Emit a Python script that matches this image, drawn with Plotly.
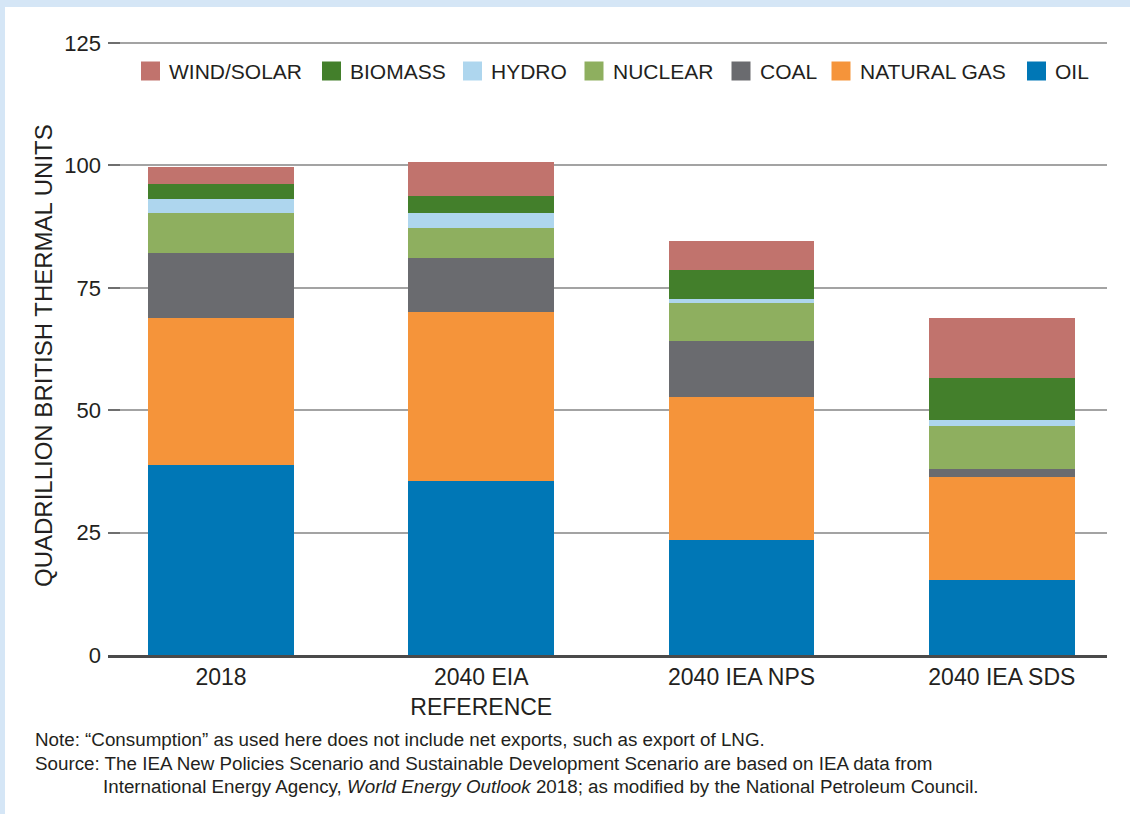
import plotly.graph_objects as go

# Scenarios on the horizontal axis
scenarios = ["2018", "2040 EIA<br>REFERENCE", "2040 IEA NPS", "2040 IEA SDS"]

# U.S. primary energy consumption by fuel, quadrillion Btu
oil = [38.8, 35.6, 23.5, 15.4]
natural_gas = [30.1, 34.4, 29.1, 20.9]
coal = [13.2, 11.0, 11.5, 1.6]
nuclear = [8.2, 6.3, 7.7, 8.8]
hydro = [2.8, 3.0, 0.9, 1.3]
biomass = [3.0, 3.5, 5.9, 8.5]
wind_solar = [3.5, 6.9, 5.9, 12.4]

# Stack order, bottom to top
series_names = ["OIL", "NATURAL GAS", "COAL", "NUCLEAR", "HYDRO", "BIOMASS", "WIND/SOLAR"]
series_values = [oil, natural_gas, coal, nuclear, hydro, biomass, wind_solar]
series_colors = ["#0077B6", "#F5943A", "#6A6B6F", "#8EAF5F", "#AED6EE", "#437F2B", "#C1736D"]

y_ticks = [0, 25, 50, 75, 100, 125]
y_max = 126.02  # headroom so the 125 gridline and tick are drawn

# Plot-area edges in page pixels
L, R, T, B = 108, 1107, 38, 655
W, H = 1130, 814


def px_x(px):
    return (px - L) / (R - L)


def px_y(py):
    return (B - py) / (B - T)


FONT = "Arial, Liberation Sans, Helvetica, sans-serif"
TEXT = "#231F20"

fig = go.Figure()
for name, vals, col in zip(series_names, series_values, series_colors):
    fig.add_trace(go.Bar(
        x=list(range(len(scenarios))), y=vals, name=name,
        marker=dict(color=col, line=dict(width=0)),
        width=0.56, showlegend=False,
    ))

shapes = []
annotations = []

# Light blue frame strips along the top and left edges
frame = "#D5E6F6"
shapes.append(dict(type="rect", xref="paper", yref="paper", layer="below",
                   x0=px_x(0), x1=px_x(W), y0=px_y(0), y1=px_y(7),
                   line=dict(width=0), fillcolor=frame))
shapes.append(dict(type="rect", xref="paper", yref="paper", layer="below",
                   x0=px_x(0), x1=px_x(5), y0=px_y(0), y1=px_y(H),
                   line=dict(width=0), fillcolor=frame))

# Legend row: colour swatch followed by its label, top of the stack first
legend_left = [141, 322, 463, 584.5, 731.5, 831.5, 1027]
sw, ly = 19, 71
for xl, name, col in zip(legend_left, series_names[::-1], series_colors[::-1]):
    shapes.append(dict(type="rect", xref="paper", yref="paper",
                       x0=px_x(xl), x1=px_x(xl + sw),
                       y0=px_y(ly + sw / 2), y1=px_y(ly - sw / 2),
                       line=dict(width=0), fillcolor=col))
    annotations.append(dict(xref="paper", yref="paper", x=px_x(xl + sw + 7), y=px_y(ly),
                            xanchor="left", yanchor="middle", showarrow=False,
                            text=name, font=dict(family=FONT, size=21, color=TEXT)))

# Vertical axis title
annotations.append(dict(xref="paper", yref="paper", x=px_x(43), y=px_y(356),
                        xanchor="center", yanchor="middle", showarrow=False, textangle=-90,
                        text="QUADRILLION BRITISH THERMAL UNITS",
                        font=dict(family=FONT, size=24, color=TEXT)))

# Footnotes
note_font = dict(family=FONT, size=18.8, color=TEXT)
annotations.append(dict(xref="paper", yref="paper", x=px_x(33), y=px_y(739),
                        xanchor="left", yanchor="middle", showarrow=False, font=note_font,
                        text="Note: \u201cConsumption\u201d as used here does not include net exports, such as export of LNG."))
annotations.append(dict(xref="paper", yref="paper", x=px_x(33), y=px_y(763),
                        xanchor="left", yanchor="middle", showarrow=False, font=note_font,
                        text="Source: The IEA New Policies Scenario and Sustainable Development Scenario are based on IEA data from"))
annotations.append(dict(xref="paper", yref="paper", x=px_x(101), y=px_y(786),
                        xanchor="left", yanchor="middle", showarrow=False, font=note_font,
                        text="International Energy Agency, <i>World Energy Outlook</i> 2018; as modified by the National Petroleum Council."))

fig.update_layout(
    barmode="stack",
    width=W, height=H,
    margin=dict(l=L, r=W - R, t=T, b=H - B, pad=0),
    paper_bgcolor="white", plot_bgcolor="white",
    font=dict(family=FONT, color=TEXT),
    shapes=shapes, annotations=annotations,
    xaxis=dict(
        range=[-0.434, 3.404],
        tickmode="array", tickvals=list(range(len(scenarios))), ticktext=scenarios,
        tickfont=dict(family=FONT, size=23, color=TEXT),
        showgrid=False, zeroline=False, ticks="",
        showline=True, linecolor="#4A4A4A", linewidth=2.5,
        fixedrange=True,
    ),
    yaxis=dict(
        range=[0, y_max], tickmode="array", tickvals=y_ticks,
        tickfont=dict(family=FONT, size=22, color=TEXT),
        showgrid=True, gridcolor="#A3A3A3", gridwidth=1.5,
        zeroline=False, showline=False,
        ticks="inside", ticklen=12, tickwidth=2, tickcolor="#6E6E6E",
        ticklabelstandoff=6,
        fixedrange=True,
    ),
)

fig.write_html("out.html")
